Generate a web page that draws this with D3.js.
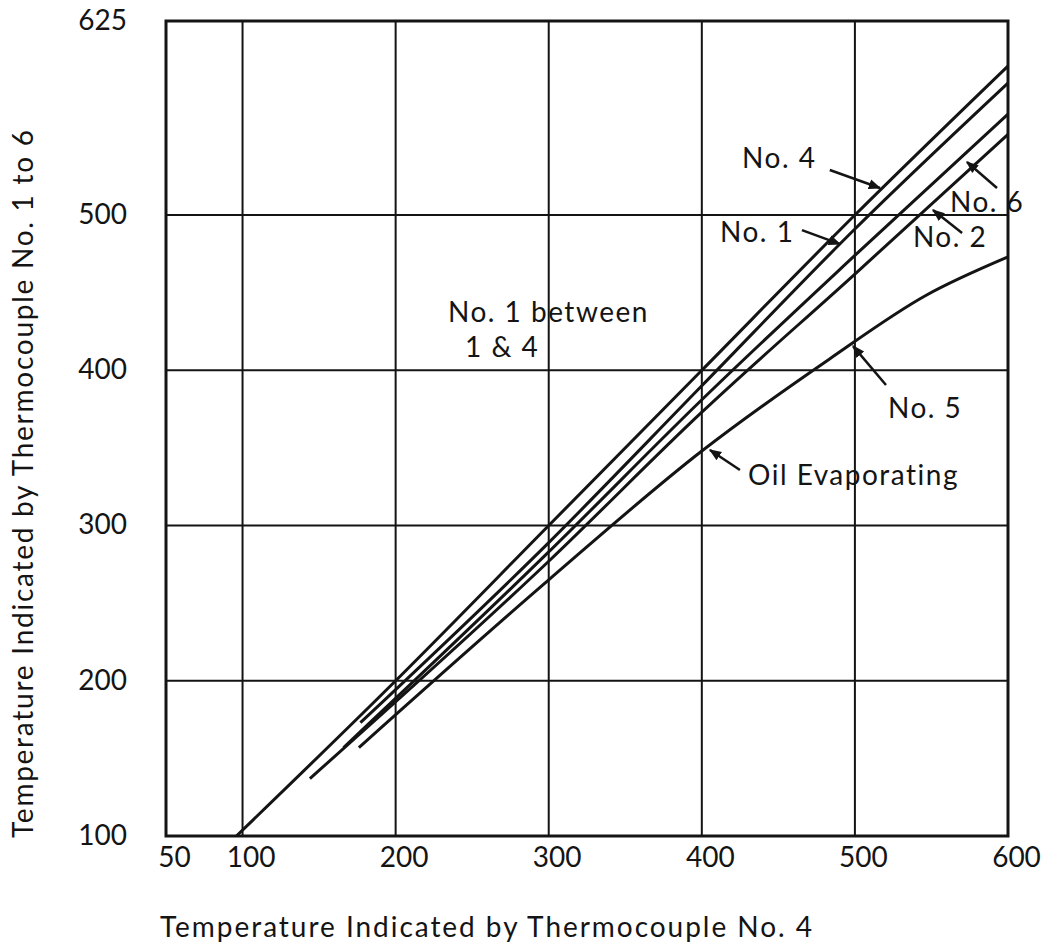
<!DOCTYPE html>
<html>
<head>
<meta charset="utf-8">
<script src="https://cdn.jsdelivr.net/npm/d3@7"></script>
<style>
  html, body { margin: 0; padding: 0; background: #fff; }
  svg { display: block; }
  text { font-family: Lato, "Open Sans", sans-serif; fill: #141414; }
</style>
</head>
<body>
<div id="chart"></div>
<script>
// Thermocouple calibration: readings of No. 1, 2, 5, 6 against No. 4
const xTickValues = [50, 100, 200, 300, 400, 500, 600];
const yTickValues = [100, 200, 300, 400, 500, 625];
const xGridValues = [100, 200, 300, 400, 500];
const yGridValues = [200, 300, 400, 500];

const no4 = [[96, 100], [200, 200], [300, 300], [400, 400], [500, 500], [600, 596]];
const no1 = [[177, 173], [300, 289], [400, 390], [500, 491], [600, 585]];
const no6 = [[166, 157], [300, 283], [400, 381], [500, 474], [600, 565]];
const no2 = [[144, 137], [300, 277], [400, 373], [500, 462], [600, 552]];
const no5 = [[176, 157], [300, 265], [400, 348], [483, 407], [546, 448], [600, 473]];

const seriesList = [no4, no1, no6, no2, no5];

const xTitle = "Temperature Indicated by Thermocouple No. 4";
const yTitle = "Temperature Indicated by Thermocouple No. 1 to 6";

// Callout labels: text, anchor point (data units), arrow from -> to (data units)
const callouts = [
  { text: "No. 4", at: [426.3, 530.3], from: [483.6, 529.0], to: [516.4, 517.4] },
  { text: "No. 1", at: [411.9, 482.8], from: [465.4, 490.3], to: [490.3, 481.3] },
  { text: "No. 6", at: [562.1, 502.1], from: [592.8, 517.4], to: [573.2, 534.2] },
  { text: "No. 2", at: [537.9, 479.6], from: [570.0, 488.4], to: [551.0, 503.2] },
  { text: "No. 5", at: [521.6, 369.3], from: [520.3, 390.5], to: [498.8, 415.6] },
  { text: "Oil Evaporating", at: [430.2, 326.1], from: [424.9, 335.8], to: [405.3, 348.7] }
];
const notes = [
  { text: "No. 1 between", at: [234.2, 431.2] },
  { text: "1 & 4", at: [245.3, 408.6] }
];

const W = 1044, H = 947;
const svg = d3.select("#chart").append("svg").attr("width", W).attr("height", H);

const x = d3.scaleLinear().domain([50, 600]).range([166, 1008]);
const y = d3.scaleLinear().domain([100, 625]).range([836, 21]);

const ink = "#141414";

// grid
svg.append("g")
  .selectAll("line.vg").data(xGridValues).join("line")
  .attr("x1", d => x(d)).attr("x2", d => x(d))
  .attr("y1", y(100)).attr("y2", y(625))
  .attr("stroke", ink).attr("stroke-width", 2);
svg.append("g")
  .selectAll("line.hg").data(yGridValues).join("line")
  .attr("x1", x(50)).attr("x2", x(600))
  .attr("y1", d => y(d)).attr("y2", d => y(d))
  .attr("stroke", ink).attr("stroke-width", 2);

// frame
svg.append("rect")
  .attr("x", x(50)).attr("y", y(625))
  .attr("width", x(600) - x(50)).attr("height", y(100) - y(625))
  .attr("fill", "none").attr("stroke", ink).attr("stroke-width", 3);

// axes (labels only; the frame carries the lines)
const xAxis = svg.append("g")
  .attr("transform", `translate(0,${y(100)})`)
  .call(d3.axisBottom(x).tickValues(xTickValues).tickSize(0).tickPadding(0).tickFormat(d3.format("d")));
xAxis.select(".domain").remove();
xAxis.selectAll("text")
  .attr("font-size", 28).attr("dy", 0).attr("y", 31).attr("dx", 8)
  .style("font-family", "Lato, sans-serif").attr("fill", ink);

const yAxis = svg.append("g")
  .attr("transform", `translate(127,0)`)
  .call(d3.axisLeft(y).tickValues(yTickValues).tickSize(0).tickPadding(0).tickFormat(d3.format("d")));
yAxis.select(".domain").remove();
yAxis.selectAll("text")
  .attr("font-size", 28).attr("x", 0).attr("dy", "0.3em").attr("y", 0)
  .style("font-family", "Lato, sans-serif").attr("fill", ink);

// curves
const line = d3.line().x(d => x(d[0])).y(d => y(d[1])).curve(d3.curveMonotoneX);
svg.append("g").selectAll("path").data(seriesList).join("path")
  .attr("d", line)
  .attr("fill", "none").attr("stroke", ink).attr("stroke-width", 3)
  .attr("stroke-linecap", "butt");

// arrow heads
const defs = svg.append("defs");
defs.append("marker").attr("id", "head")
  .attr("viewBox", "0 0 10 10").attr("refX", 9).attr("refY", 5)
  .attr("markerWidth", 5).attr("markerHeight", 5).attr("orient", "auto")
  .append("path").attr("d", "M0,1 L10,5 L0,9 Z").attr("fill", ink);

const cg = svg.append("g");
cg.selectAll("line").data(callouts).join("line")
  .attr("x1", d => x(d.from[0])).attr("y1", d => y(d.from[1]))
  .attr("x2", d => x(d.to[0])).attr("y2", d => y(d.to[1]))
  .attr("stroke", ink).attr("stroke-width", 2.5)
  .attr("marker-end", "url(#head)");
cg.selectAll("text").data(callouts).join("text")
  .attr("x", d => x(d.at[0])).attr("y", d => y(d.at[1]))
  .attr("font-size", 28).attr("letter-spacing", 1.5)
  .text(d => d.text);

svg.append("g").selectAll("text").data(notes).join("text")
  .attr("x", d => x(d.at[0])).attr("y", d => y(d.at[1]))
  .attr("font-size", 28).attr("letter-spacing", 1.5)
  .text(d => d.text);

// axis titles
svg.append("text")
  .attr("x", 160).attr("y", 937)
  .attr("font-size", 28).attr("textLength", 652).attr("lengthAdjust", "spacing")
  .text(xTitle);
svg.append("text")
  .attr("transform", "translate(33,838) rotate(-90)")
  .attr("font-size", 28).attr("textLength", 708).attr("lengthAdjust", "spacing")
  .text(yTitle);
</script>
</body>
</html>
